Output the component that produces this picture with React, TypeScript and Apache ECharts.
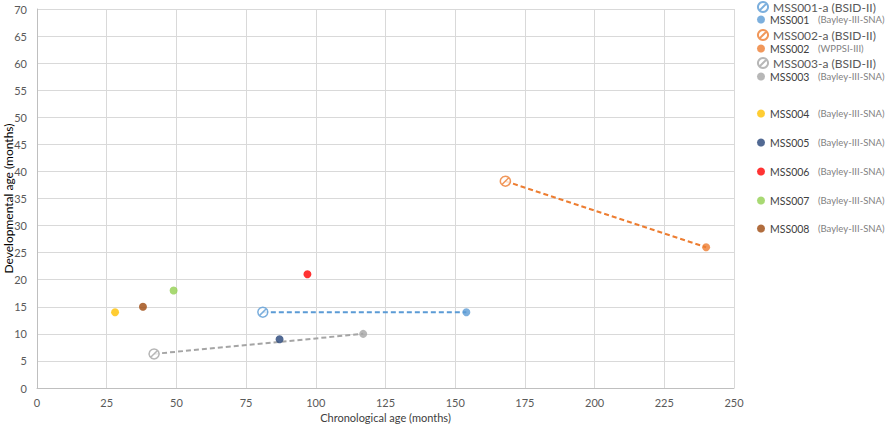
import React, { useEffect, useRef } from "react";
import * as echarts from "echarts";

const names = ["MSS001-a", "MSS001", "MSS002-a", "MSS002", "MSS003-a", "MSS003", "MSS004", "MSS005", "MSS006", "MSS007", "MSS008"];
const tests = ["(BSID-II)", "(Bayley-III-SNA)", "(BSID-II)", "(WPPSI-III)", "(BSID-II)", "(Bayley-III-SNA)", "(Bayley-III-SNA)", "(Bayley-III-SNA)", "(Bayley-III-SNA)", "(Bayley-III-SNA)", "(Bayley-III-SNA)"];
const chronologicalAge = [81, 154, 168, 240, 42, 117, 28, 87, 97, 49, 38];
const developmentalAge = [14, 14, 38.2, 26, 6.3, 10, 14, 9, 21, 18, 15];
const colors = ["#5B9BD5", "#5B9BD5", "#ED7D31", "#ED7D31", "#A5A5A5", "#A5A5A5", "#FFC000", "#264478", "#FF0000", "#92D050", "#9E480E"];
const hatched = [true, false, true, false, true, false, false, false, false, false, false];
const links = [[0, 1], [2, 3], [4, 5]];
const legendTops = [6, 19, 34, 48, 62, 76, 113, 142, 171, 200, 228];

const HATCH = "path://M10,0A10,10,0,1,1,9.99,0ZM3.2,16.8L16.8,3.2";

export default function App() {
  const ref = useRef<HTMLDivElement>(null);
  useEffect(() => {
    document.body.style.margin = "0";
    const chart = echarts.init(ref.current!, null, { renderer: "svg" });
    const font = "Lato, 'Open Sans', sans-serif";
    const series: any[] = [];
    links.forEach(([a, b]) => {
      series.push({
        type: "line",
        name: "link" + a,
        data: [[chronologicalAge[a], developmentalAge[a]], [chronologicalAge[b], developmentalAge[b]]],
        symbol: "none",
        lineStyle: { color: colors[a], width: 2, type: [5, 3] },
        z: 2,
        silent: true,
      });
    });
    names.forEach((n, i) => {
      series.push({
        type: "scatter",
        name: n,
        data: [[chronologicalAge[i], developmentalAge[i]]],
        symbol: hatched[i] ? HATCH : "circle",
        symbolSize: hatched[i] ? 10 : 8,
        itemStyle: hatched[i]
          ? { color: "#ffffff", borderColor: colors[i], borderWidth: 1.5 }
          : { color: colors[i] },
        z: 5,
      });
    });
    const legends = names.map((n, i) => ({
      data: [{ name: n, icon: hatched[i] ? HATCH : "circle" }],
      left: 757,
      top: legendTops[i] - 5,
      itemWidth: hatched[i] ? 10 : 8,
      itemHeight: hatched[i] ? 10 : 8,
      itemGap: 0,
      padding: 0,
      selectedMode: false,
      formatter: (name: string) =>
        hatched[i] ? `{na|${name} ${tests[i]}}` : `{n|${name}}{t|${tests[i]}}`,
      textStyle: {
        rich: {
          na: { fontFamily: font, fontSize: 12, lineHeight: 11, color: "#595959" },
          n: { fontFamily: font, fontSize: 10.5, lineHeight: 11, color: "#404040", width: 48 },
          t: { fontFamily: font, fontSize: 9.5, lineHeight: 11, color: "#7F7F7F" },
        },
      },
    }));
    chart.setOption({
      animation: false,
      backgroundColor: "#ffffff",
      grid: { left: 37, right: 154, top: 9, bottom: 39, outerBoundsMode: "none", containLabel: false },
      legend: legends,
      xAxis: {
        type: "value",
        min: 0,
        max: 250,
        interval: 25,
        name: "Chronological age (months)",
        nameLocation: "middle",
        nameGap: 24,
        nameMoveOverlap: false,
        nameTextStyle: { fontFamily: font, fontSize: 11, color: "#404040" },
        axisLine: { show: true, lineStyle: { color: "#BFBFBF" } },
        axisTick: { show: false },
        axisLabel: { fontFamily: font, fontSize: 11, color: "#595959", margin: 9 },
        splitLine: { show: true, lineStyle: { color: "#D9D9D9" } },
      },
      yAxis: {
        type: "value",
        min: 0,
        max: 70,
        interval: 5,
        name: "Developmental age (months)",
        nameLocation: "middle",
        nameGap: 23,
        nameMoveOverlap: false,
        nameTextStyle: { fontFamily: font, fontSize: 12, color: "#000000" },
        axisLine: { show: true, lineStyle: { color: "#BFBFBF" } },
        axisTick: { show: false },
        axisLabel: { fontFamily: font, fontSize: 11, color: "#595959", margin: 10 },
        splitLine: { show: true, lineStyle: { color: "#D9D9D9" } },
      },
      series,
    });
    return () => chart.dispose();
  }, []);
  return <div ref={ref} style={{ width: 888, height: 427 }} />;
}
